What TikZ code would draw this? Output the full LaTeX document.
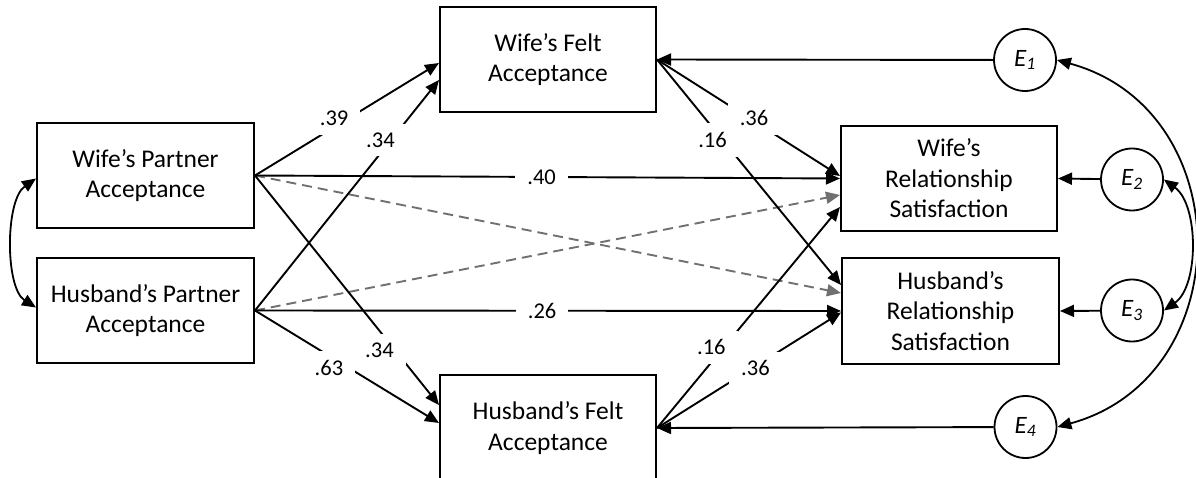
\documentclass[tikz,border=0pt]{standalone}
\usepackage{fontspec}
\setmainfont{Carlito}
\usetikzlibrary{arrows.meta,calc}
\definecolor{dgray}{RGB}{112,112,112}
\begin{document}
\begin{tikzpicture}[x=1pt,y=-1pt,
  box/.style={draw, line width=2pt, minimum width=217pt, minimum height=105pt, align=center, inner sep=0pt, font=\fontsize{25.5}{30.5}\selectfont},
  err/.style={draw, circle, line width=1.8pt, minimum size=62pt, inner sep=0pt, font=\fontsize{25}{25}\selectfont\itshape},
  tip/.tip={Triangle[length=14pt,width=12pt]},
  conn/.style={line width=1.9pt, -tip},
  dbl/.style={line width=1.8pt, tip-tip},
  dconn/.style={conn, draw=dgray, dash pattern=on 10pt off 6pt},
  lbl/.style={fill=white, inner xsep=12pt, inner ysep=9pt, font=\fontsize{22.5}{24}\selectfont}]
\useasboundingbox (0,0) rectangle (1196,478);
% boxes
\node[box] (WPA) at (145.5,175.5) {Wife’s Partner\\Acceptance};
\node[box] (HPA) at (145.5,310.5) {Husband’s Partner\\Acceptance};
\node[box, minimum width=216pt] (WFA) at (548,59.5) {Wife’s Felt\\Acceptance};
\node[box, minimum width=216pt, minimum height=106pt] (HFA) at (548,428) {Husband’s Felt\\Acceptance};
\node[box, minimum width=216pt] (WRS) at (949,178.5) {Wife’s\\Relationship\\Satisfaction};
\node[box] (HRS) at (950.5,311) {Husband’s\\Relationship\\Satisfaction};
% error terms
\node[err] (E1) at (1025,60) {E\textsubscript{1}};
\node[err] (E2) at (1132,179.5) {E\textsubscript{2}};
\node[err] (E3) at (1132,310.5) {E\textsubscript{3}};
\node[err] (E4) at (1025.5,427) {E\textsubscript{4}};
% error paths
\draw[conn] (E1) -- (WFA.east);
\draw[conn] (E4) -- (HFA.east);
\draw[conn] (E2) -- (WRS.east);
\draw[conn] (E3) -- (HRS.east);
% dashed paths
\draw[dconn] (WPA.east) -- ($(HRS.west)+(0,-18)$);
\draw[dconn] (HPA.east) -- ($(WRS.west)+(0,16.5)$);
% solid paths
\draw[conn] (WPA.east) -- node[lbl, pos=0.43, yshift=9pt]{.39} ($(WFA.west)+(0,3.5)$);
\draw[conn] (HPA.east) -- node[lbl, pos=0.72, xshift=-7pt, yshift=4.5pt]{.34} ($(WFA.west)+(0,20.5)$);
\draw[conn] (WPA.east) -- node[lbl, pos=0.49]{.40} (WRS.west);
\draw[conn] (HPA.east) -- node[lbl, pos=0.49]{.26} (HRS.west);
\draw[conn] (HPA.east) -- node[lbl, pos=0.44, xshift=-7pt, yshift=-8pt]{.63} ($(HFA.west)+(0,-5)$);
\draw[conn] (WPA.east) -- node[lbl, pos=0.747, xshift=-13pt, yshift=-3pt]{.34} ($(HFA.west)+(0,-23)$);
\draw[conn] (WFA.east) -- node[lbl, pos=0.489, xshift=7.5pt, yshift=-2pt]{.36} ($(WRS.west)+(0,-2.5)$);
\draw[conn] (WFA.east) -- node[lbl, pos=0.34, xshift=-7pt, yshift=-3.7pt]{.16} ($(HRS.west)+(0,-26)$);
\draw[conn] (HFA.east) -- node[lbl, pos=0.349, xshift=-9.5pt, yshift=3.6pt]{.16} ($(WRS.west)+(0,28.5)$);
\draw[conn] (HFA.east) -- node[lbl, pos=0.535, yshift=-2pt]{.36} ($(HRS.west)+(0,1.5)$);
% covariances
\draw[dbl] (E1.east) .. controls (1240,110) and (1240,377) .. (E4.east);
\draw[dbl] (E2.east) .. controls (1199,205) and (1199,286) .. (E3.east);
\draw[dbl] ($(WPA.west)+(0,3)$) .. controls (5,200) and (5,288) .. ($(HPA.west)+(0,-3)$);
\end{tikzpicture}
\end{document}
